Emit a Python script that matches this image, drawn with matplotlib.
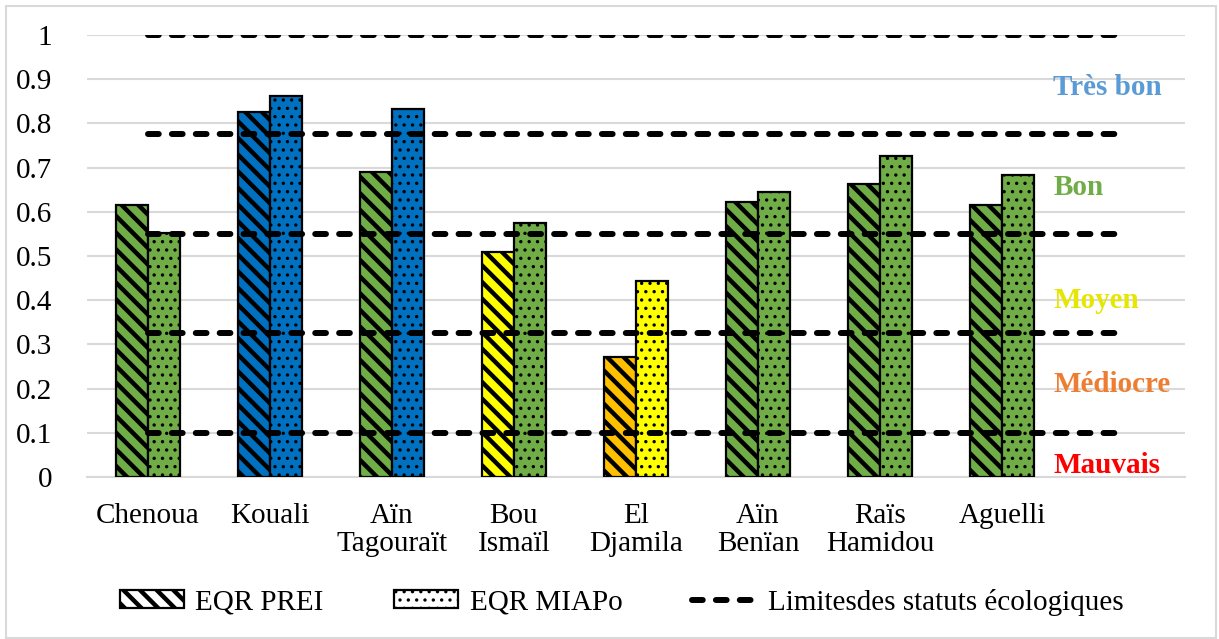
import numpy as np
import matplotlib
matplotlib.use("Agg")
import matplotlib.pyplot as plt
from matplotlib.patches import Patch, Rectangle
from matplotlib.lines import Line2D

plt.rcParams["font.family"] = ["Liberation Serif", "DejaVu Serif"]

# ── Data ───────────────────────────────────────────────────────────────
sites = ["Chenoua", "Kouali", "Aïn\nTagouraït", "Bou\nIsmaïl", "El\nDjamila",
         "Aïn\nBenïan", "Raïs\nHamidou", "Aguelli"]
eqr_prei = [0.615, 0.826, 0.690, 0.509, 0.271, 0.622, 0.663, 0.615]
eqr_miapo = [0.552, 0.862, 0.833, 0.575, 0.443, 0.645, 0.726, 0.683]

limits = [1.0, 0.775, 0.55, 0.325, 0.1]
status_names = ["Très bon", "Bon", "Moyen", "Médiocre", "Mauvais"]
status_colors = ["#5B9BD5", "#70AD47", "#E6E600", "#ED7D31", "#FF0000"]
status_label_y = [0.882, 0.654, 0.400, 0.210, 0.027]

# bar fill by ecological class
class_fill = ["#0070C0", "#70AD47", "#FFFF00", "#FFC000", "#C00000"]

STRIPE_LW = 3.2
DOT_LW = 1.2


def fill_for(v):
    for lim, col in zip(limits[1:], class_fill):
        if v >= lim:
            return col
    return class_fill[-1]


def set_hatch_lw(artist, lw):
    if hasattr(artist, "set_hatch_linewidth"):
        artist.set_hatch_linewidth(lw)
    else:
        artist._hatch_linewidth = lw


# ── Figure ─────────────────────────────────────────────────────────────
fig = plt.figure(figsize=(12.19, 6.39), dpi=100)
ax = fig.add_axes([87 / 1219, 1 - 477 / 639, (1185 - 87) / 1219, (477 - 35) / 639])

n_slots = len(sites) + 1
x = np.arange(len(sites))
w = 0.265

b1 = ax.bar(x - w / 2, eqr_prei, width=w, color=[fill_for(v) for v in eqr_prei],
            edgecolor="black", linewidth=1.6, hatch="\\\\", zorder=3)
b2 = ax.bar(x + w / 2, eqr_miapo, width=w, color=[fill_for(v) for v in eqr_miapo],
            edgecolor="black", linewidth=1.6, hatch="..", zorder=3)
for p in b1:
    set_hatch_lw(p, STRIPE_LW)
for p in b2:
    set_hatch_lw(p, DOT_LW)

dash_kw = dict(color="black", linewidth=4.3, dashes=(1.8, 2.2), dash_capstyle="round")
for lim in limits:
    ax.plot([0, n_slots - 1], [lim, lim], zorder=4, **dash_kw)

for name, col, yy in zip(status_names, status_colors, status_label_y):
    ax.text(7.42, yy, name, color=col, fontsize=21, fontweight="bold",
            ha="left", va="center", zorder=5)

ax.set_xlim(-0.5, n_slots - 0.5)
ax.set_ylim(0, 1)
ax.set_yticks(np.arange(0, 1.01, 0.1))
ax.set_yticklabels(["0"] + [f"{v:.1f}" for v in np.arange(0.1, 0.95, 0.1)] + ["1"])
ax.set_xticks(x)
ax.set_xticklabels(sites, linespacing=1.1)
ax.tick_params(axis="both", length=0, labelsize=21)
ax.tick_params(axis="x", pad=19)
ax.tick_params(axis="y", pad=25)
ax.grid(axis="y", color="#D9D9D9", linewidth=1.5, zorder=0)
ax.set_axisbelow(True)
for side in ["top", "right", "left"]:
    ax.spines[side].set_visible(False)
ax.spines["bottom"].set_color("#D9D9D9")
ax.spines["bottom"].set_linewidth(1.5)

# ── Legend ─────────────────────────────────────────────────────────────
h1 = Patch(facecolor="white", edgecolor="black", hatch="\\\\", linewidth=1.6)
h2 = Patch(facecolor="white", edgecolor="black", hatch="..", linewidth=1.6)
h3 = Line2D([], [], **dash_kw)
leg = fig.legend([h1, h2, h3], ["EQR PREI", "EQR MIAPo", "Limitesdes statuts écologiques"],
                 loc="center", bbox_to_anchor=(0.51, 1 - 602 / 639), ncol=3,
                 frameon=False, fontsize=21, handlelength=2.2, handleheight=0.6,
                 columnspacing=2.4, handletextpad=0.4)
lh = leg.legend_handles
set_hatch_lw(lh[0], STRIPE_LW)
set_hatch_lw(lh[1], DOT_LW)

# chart border
fig.patches.append(Rectangle((6 / 1219, 0.002), 1210 / 1219, 1 - 6 / 639 - 0.002,
                             transform=fig.transFigure, fill=False,
                             edgecolor="#D9D9D9", linewidth=1.5))

fig.savefig("out.png", dpi=100)
